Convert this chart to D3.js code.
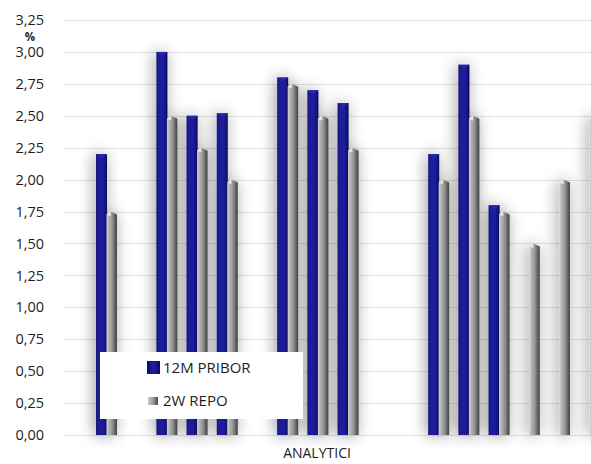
<!DOCTYPE html>
<html>
<head>
<meta charset="utf-8">
<script src="https://cdn.jsdelivr.net/npm/d3@7"></script>
<style>
  html, body { margin: 0; padding: 0; background: #fff; }
  svg { display: block; font-family: "Open Sans", "Noto Sans", sans-serif; }
</style>
</head>
<body>
<svg id="chart" width="591" height="464"></svg>
<script>
// Analyst forecasts (one slot per analyst, empty slots have no forecast)
const analysts = ["A1","A2","A3","A4","A5","A6","A7","A8","A9","A10","A11","A12","A13","A14","A15","A16","A17"];
const pribor12M = [2.20, null, 3.00, 2.50, 2.52, null, 2.80, 2.70, 2.60, null, null, 2.20, 2.90, 1.80, null, null, null];
const repo2W    = [1.75, null, 2.50, 2.25, 2.00, null, 2.75, 2.50, 2.25, null, null, 2.00, 2.50, 1.75, 1.50, 2.00, 2.50];
const yTicks = [0, 0.25, 0.5, 0.75, 1, 1.25, 1.5, 1.75, 2, 2.25, 2.5, 2.75, 3, 3.25];
const seriesNames = ["12M PRIBOR", "2W REPO"];
const xTitle = "ANALYTICI";

const svg = d3.select("#chart");
const plot = { left: 63, right: 591, top: 20, bottom: 435 };

const y = d3.scaleLinear().domain([0, 3.25]).range([plot.bottom, plot.top]);
const x = d3.scaleBand().domain(analysts).range([86.8, 609.4]).paddingInner(0.305).paddingOuter(0.305);
const xs = d3.scaleBand().domain(["p", "r"]).range([0, x.bandwidth()]);

const fmt = v => d3.format(".2f")(v).replace(".", ",");

// gradients + shadow
const defs = svg.append("defs");
function hGrad(id, stops) {
  const g = defs.append("linearGradient").attr("id", id).attr("x1", 0).attr("x2", 1).attr("y1", 0).attr("y2", 0);
  stops.forEach(([o, c]) => g.append("stop").attr("offset", o).attr("stop-color", c));
}
hGrad("blueBar", [[0, "#0c0c62"], [0.12, "#1c1c95"], [0.55, "#1f1fa0"], [0.85, "#14147a"], [1, "#0a0a55"]]);
hGrad("grayBar", [[0, "#d4d4d4"], [0.25, "#b0b0b0"], [0.55, "#929292"], [0.8, "#626262"], [1, "#444"]]);
hGrad("blueLeg", [[0, "#0c0c62"], [0.5, "#2020a2"], [1, "#0c0c62"]]);
hGrad("grayLeg", [[0, "#d0d0d0"], [0.5, "#999"], [1, "#4a4a4a"]]);

const f = defs.append("filter").attr("id", "barShadow")
  .attr("x", "-150%").attr("y", "-10%").attr("width", "400%").attr("height", "120%");
f.append("feGaussianBlur").attr("in", "SourceAlpha").attr("stdDeviation", 8).attr("result", "b");
f.append("feOffset").attr("in", "b").attr("dx", -2).attr("dy", 0).attr("result", "o");
f.append("feComponentTransfer").attr("in", "o").attr("result", "s")
  .append("feFuncA").attr("type", "linear").attr("slope", 0.4);
const fm = f.append("feMerge");
fm.append("feMergeNode").attr("in", "s");
fm.append("feMergeNode").attr("in", "SourceGraphic");

// gridlines
svg.append("g").selectAll("line").data(yTicks).join("line")
  .attr("x1", plot.left).attr("x2", plot.right)
  .attr("y1", d => Math.round(y(d)) + 0.5).attr("y2", d => Math.round(y(d)) + 0.5)
  .attr("stroke", "#e2e2e2").attr("stroke-width", 1);

// y axis labels
const yAxis = d3.axisLeft(y).tickValues(yTicks).tickFormat(fmt).tickSize(0).tickPadding(0);
const ya = svg.append("g").attr("transform", "translate(44,0)").call(yAxis);
ya.select(".domain").remove();
ya.selectAll("text").attr("font-size", 14.5).attr("fill", "#1e1e1e").attr("font-family", "Open Sans, sans-serif");

// unit marker between the two top tick labels
svg.append("text").attr("x", 30).attr("y", 36).attr("text-anchor", "middle").attr("dominant-baseline", "central")
  .attr("font-size", 11.5).attr("font-weight", "bold").attr("fill", "#1e1e1e").text("%");

// bars
const bars = svg.append("g").attr("filter", "url(#barShadow)");
const rows = analysts.map((a, i) => ({ a, p: pribor12M[i], r: repo2W[i] }));

rows.forEach(d => {
  if (d.p != null) {
    const x0 = x(d.a) + xs("p"), w = xs.bandwidth() + 0.5, yt = y(d.p);
    bars.append("rect").attr("x", x0).attr("y", yt).attr("width", w).attr("height", plot.bottom - yt)
      .attr("fill", "url(#blueBar)");
    bars.append("path")
      .attr("d", `M${x0},${yt}L${x0 + w},${yt}L${x0 + w * 0.55},${yt + 4}Z`)
      .attr("fill", "#2a2ab5").attr("opacity", 0.8);
  }
  if (d.r != null) {
    const x0 = x(d.a) + xs("r"), w = xs.bandwidth(), yt = y(d.r);
    bars.append("path")
      .attr("d", `M${x0},${yt + 3}L${x0 + w * 0.4},${yt}L${x0 + w},${yt + 3}L${x0 + w},${plot.bottom}L${x0},${plot.bottom}Z`)
      .attr("fill", "url(#grayBar)");
    bars.append("path")
      .attr("d", `M${x0},${yt + 3}L${x0 + w * 0.4},${yt}L${x0 + w * 0.4},${yt + 5}Z`)
      .attr("fill", "#e6e6e6");
  }
});

// x axis title
svg.append("text").attr("x", 317).attr("y", 458).attr("text-anchor", "middle")
  .attr("font-size", 14).attr("fill", "#1e1e1e").text(xTitle);

// legend
const lg = svg.append("g");
lg.append("rect").attr("x", 100).attr("y", 352).attr("width", 203).attr("height", 67).attr("fill", "#fff");
lg.append("rect").attr("x", 147).attr("y", 361).attr("width", 13).attr("height", 13).attr("fill", "url(#blueLeg)");
lg.append("rect").attr("x", 148).attr("y", 397).attr("width", 10).attr("height", 8).attr("fill", "url(#grayLeg)");
lg.selectAll("text.lab").data(seriesNames).join("text").attr("class", "lab")
  .attr("x", 163).attr("y", (d, i) => 373 + i * 33)
  .attr("font-size", 15).attr("fill", "#1e1e1e").text(d => d);
</script>
</body>
</html>
